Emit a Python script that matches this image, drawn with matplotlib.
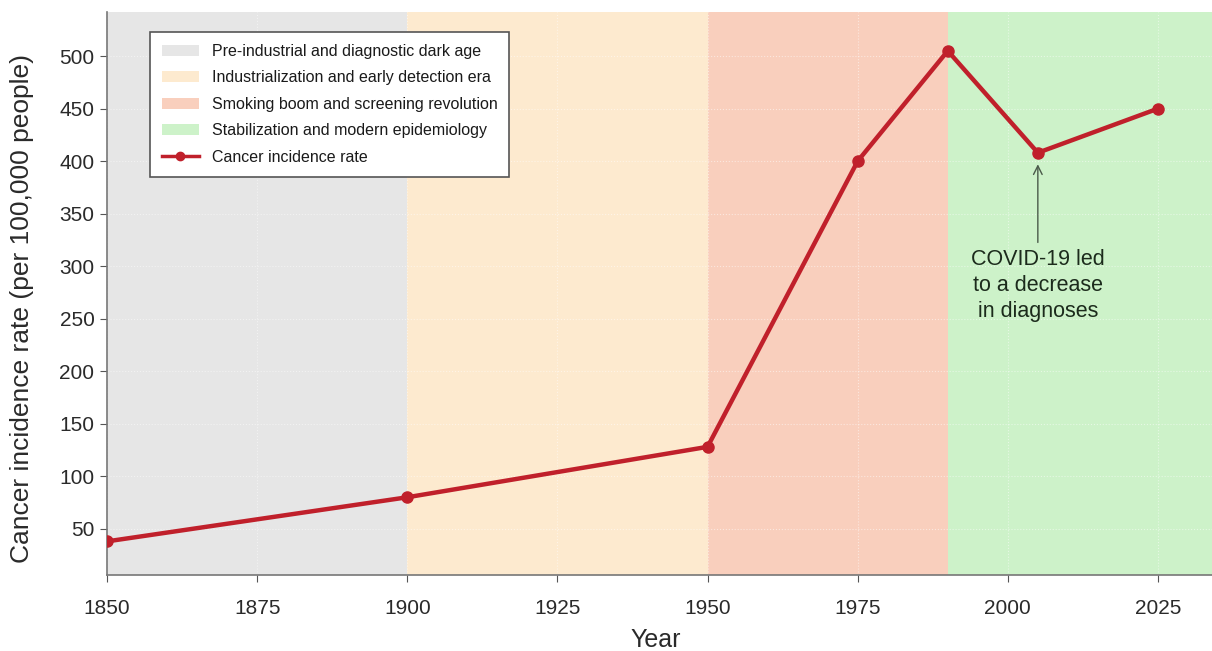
import matplotlib
matplotlib.use("Agg")
import matplotlib.pyplot as plt
from matplotlib.patches import Patch
from matplotlib.lines import Line2D

plt.rcParams['font.family'] = ['Liberation Sans', 'DejaVu Sans']

# Incidence rate per 100,000 people
years = [1850, 1900, 1950, 1975, 1990, 2005, 2025]
rates = [38, 80, 128, 400, 505, 408, 450]

# Historical eras (start, end, label, colour)
era_starts = [1850, 1900, 1950, 1990]
era_ends = [1900, 1950, 1990, 2040]
era_labels = ["Pre-industrial and diagnostic dark age",
              "Industrialization and early detection era",
              "Smoking boom and screening revolution",
              "Stabilization and modern epidemiology"]
era_colors = ["#e6e6e6", "#fdeacf", "#f9cfbd", "#cdf2c9"]

x_ticks = [1850, 1875, 1900, 1925, 1950, 1975, 2000, 2025]
y_ticks = [50, 100, 150, 200, 250, 300, 350, 400, 450, 500]

line_color = "#c0202b"
text_color = "#2a2a2a"

fig = plt.figure(figsize=(12.12, 6.51), dpi=100)
ax = fig.add_axes([107 / 1212, 76 / 651, 1105 / 1212, 563 / 651])

for s, e, c in zip(era_starts, era_ends, era_colors):
    ax.axvspan(s, e, color=c, lw=0, zorder=0)

ax.plot(years, rates, color=line_color, lw=3.2, marker='o', ms=8, zorder=3)

ax.annotate("COVID-19 led\nto a decrease\nin diagnoses",
            xy=(2005, 397), xytext=(2005, 316),
            ha='center', va='top', fontsize=15.5, color="#1c2b1c",
            linespacing=1.3,
            arrowprops=dict(arrowstyle='->', color="#4a5a4a", lw=1.0,
                            shrinkA=3, shrinkB=0))

ax.set_xlim(1850, 2034)
ax.set_ylim(6, 542)
ax.set_xticks(x_ticks)
ax.set_yticks(y_ticks)
ax.tick_params(labelsize=15, length=5, color="#555555", labelcolor=text_color)
ax.tick_params(axis='x', pad=12)
ax.tick_params(axis='y', pad=4)
ax.grid(True, color="white", lw=0.8, alpha=0.5, ls=':')
ax.set_axisbelow(True)

for side in ['top', 'right']:
    ax.spines[side].set_visible(False)
for side in ['left', 'bottom']:
    ax.spines[side].set_color("#777777")
    ax.spines[side].set_linewidth(1.2)

ax.set_xlabel("Year", fontsize=18, color=text_color, va='center', ha='center')
ax.xaxis.set_label_coords(0.497, -0.115)
ax.set_ylabel("Cancer incidence rate (per 100,000 people)", fontsize=19,
              color=text_color, va='center', ha='center')
ax.yaxis.set_label_coords(-0.077, 0.474)

handles = [Patch(facecolor=c, edgecolor='none') for c in era_colors]
handles.append(Line2D([], [], color=line_color, lw=2.5, marker='o', ms=6))
labels = era_labels + ["Cancer incidence rate"]
leg = ax.legend(handles, labels, loc='upper left', bbox_to_anchor=(0.039, 0.965),
                borderaxespad=0, fontsize=11.5, fancybox=False, framealpha=1,
                edgecolor="#555555", handlelength=2.3, labelspacing=0.72,
                borderpad=0.75)
leg.get_frame().set_linewidth(1.2)
for t in leg.get_texts():
    t.set_color("#1a1a1a")

fig.savefig("out.png", dpi=100)
